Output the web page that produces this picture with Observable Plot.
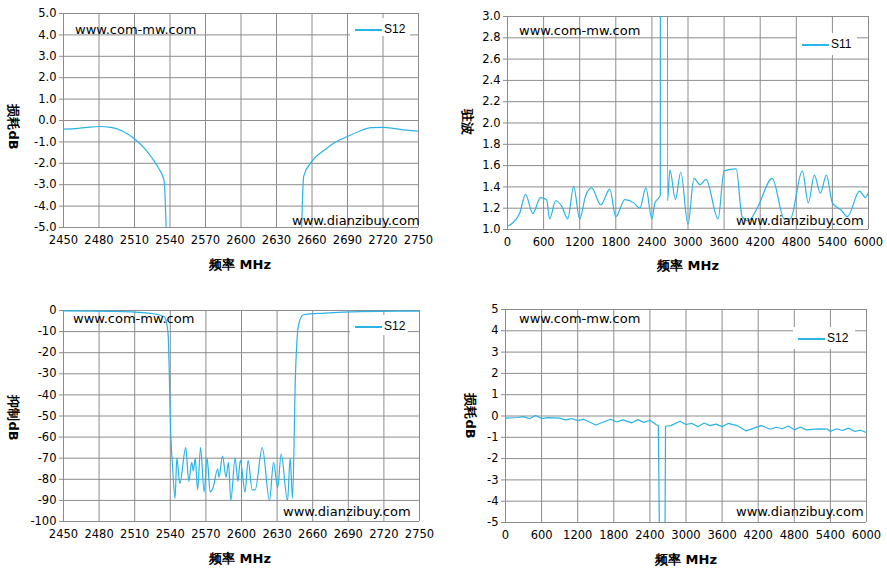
<!DOCTYPE html>
<html>
<head>
<meta charset="utf-8">
<script src="https://cdn.jsdelivr.net/npm/d3@7"></script>
<script src="https://cdn.jsdelivr.net/npm/@observablehq/plot@0.6"></script>
<style>
  body { margin: 0; background: #fff; font-family: "DejaVu Sans", sans-serif; }
  #wrap { position: relative; width: 887px; height: 575px; overflow: hidden; }
  .p { position: absolute; }
  .t { position: absolute; white-space: nowrap; color: #000; }
  .wm { font-size: 13px; font-family: "DejaVu Sans", sans-serif; }
  .yl2 { font-weight: bold; font-size: 13px; transform: translate(-50%, -50%) rotate(90deg); }
  .xl { font-weight: bold; font-size: 13px; transform: translate(-50%, -50%); }
  .lg { position: absolute; background: #fff; font-size: 12px; font-family: "Liberation Sans", sans-serif; }
  .lg span.ln { display: inline-block; width: 27px; height: 1.5px; background: #29b3e6; vertical-align: middle; margin-right: 2px; }
</style>
</head>
<body>
<div id="wrap"></div>
<script>
// panel 1: S12 loss around band, MHz / dB
const p1Freq = [2450, 2460, 2470, 2480, 2490, 2500, 2510, 2520, 2530, 2535, 2537,
                2651, 2653, 2660, 2670, 2680, 2690, 2700, 2710, 2720, 2730, 2740, 2750]
const p1Db = [-0.4, -0.38, -0.32, -0.28, -0.32, -0.5, -0.85, -1.4, -2.2, -2.8, -5.5,
              -5.5, -2.6, -1.9, -1.4, -1.0, -0.75, -0.5, -0.33, -0.32, -0.38, -0.45, -0.5]
const p1Seg = [0,0,0,0,0,0,0,0,0,0,0, 1,1,1,1,1,1,1,1,1,1,1,1]

// panel 2: S11 VSWR, 0-6000 MHz
const p2Freq = [0, 200, 300, 420, 550, 650, 700, 800, 900, 1000, 1100, 1200, 1300, 1400, 1550, 1700, 1800,
  1950, 2100, 2200, 2300, 2400, 2450, 2540, 2550, 2645, 2660, 2700, 2790, 2880, 3000, 3100, 3200, 3300,
  3500, 3600, 3800, 3900, 4000, 4150, 4400, 4600, 4700, 4900, 5000, 5100, 5200, 5300, 5400, 5550, 5650,
  5850, 5950, 6000]
const p2Vswr = [1.03, 1.15, 1.33, 1.15, 1.3, 1.28, 1.1, 1.27, 1.22, 1.1, 1.4, 1.1, 1.32, 1.39, 1.23, 1.38, 1.12,
  1.28, 1.25, 1.2, 1.39, 1.1, 1.25, 1.32, 20, 20, 1.27, 1.56, 1.28, 1.54, 1.05, 1.48, 1.42, 1.47,
  1.1, 1.55, 1.57, 1.12, 1.08, 1.2, 1.48, 1.1, 1.1, 1.55, 1.25, 1.51, 1.34, 1.51, 1.25, 1.18, 1.12,
  1.36, 1.3, 1.35]

// panel 3: S12 rejection, MHz / dB
const p3Freq = [2450, 2500, 2525, 2535, 2538, 2540.5, 2542, 2544, 2545.5, 2548, 2553, 2555.6, 2558, 2559.5,
  2561, 2563, 2565.5, 2568.5, 2571, 2573.6, 2576, 2580, 2581, 2584, 2587, 2589, 2591, 2594.6, 2597, 2599,
  2603, 2605.6, 2609, 2611.5, 2617.5, 2623.6, 2627, 2630.5, 2633.4, 2638.8, 2641, 2643, 2645.5, 2648,
  2652, 2670, 2700, 2750]
const p3Db = [-0.2, -0.5, -1.5, -3, -10, -60, -75, -89, -70, -82, -65, -81, -72, -76,
  -70, -85, -65, -86, -70, -86, -84, -75, -79, -69, -79, -72, -90, -70, -81, -71,
  -86, -71, -85, -85, -65, -90, -72, -84, -68, -90, -70, -89, -30, -7,
  -2, -1.2, -0.5, -0.3]

// panel 4: S12 wideband loss, 0-6000 MHz
const p4Freq = [0, 200, 300, 400, 500, 600, 700, 900, 1000, 1100, 1200, 1300, 1500, 1750, 1850, 1950, 2100,
  2200, 2300, 2400, 2500, 2540, 2560, 2650, 2660, 2750, 2900, 3000, 3100, 3200, 3300, 3400, 3500, 3600,
  3700, 3850, 4000, 4250, 4400, 4500, 4600, 4700, 4800, 4900, 5000, 5200, 5350, 5400, 5500, 5600, 5700,
  5800, 5900, 6000]
const p4Db = [-0.1, -0.07, -0.03, -0.13, 0.02, -0.12, -0.08, -0.1, -0.18, -0.12, -0.22, -0.15, -0.42, -0.15, -0.28, -0.18, -0.32,
  -0.17, -0.3, -0.2, -0.4, -0.45, -6, -6, -0.48, -0.45, -0.25, -0.4, -0.35, -0.5, -0.33, -0.45, -0.38, -0.5,
  -0.35, -0.45, -0.7, -0.45, -0.62, -0.53, -0.6, -0.47, -0.65, -0.52, -0.65, -0.6, -0.62, -0.72, -0.6, -0.68, -0.57,
  -0.72, -0.67, -0.78]

const p1Ticks = d3.range(2450, 2751, 30)
const p2Ticks = d3.range(0, 6001, 600)

const blue = "#29b3e6"
const wrap = document.getElementById("wrap")

function panel(cfg) {
  const data = cfg.x.map((x, i) => ({x, y: cfg.y[i], z: cfg.z ? cfg.z[i] : 0}))
  const chart = Plot.plot({
    width: cfg.w, height: 285,
    marginLeft: cfg.ml, marginRight: cfg.mr, marginTop: cfg.mt, marginBottom: cfg.mb,
    style: {fontFamily: "DejaVu Sans, sans-serif", fontSize: "11.5px", color: "#000", background: "transparent"},
    x: {domain: cfg.xd, label: null},
    y: {domain: cfg.yd, label: null},
    marks: [
      Plot.gridX(cfg.xt, {stroke: "#8c8c8c", strokeOpacity: 1}),
      Plot.gridY(cfg.yt, {stroke: "#8c8c8c", strokeOpacity: 1}),
      Plot.axisX({ticks: cfg.xt, tickSize: 0, tickPadding: 8, label: null, tickFormat: d => String(d)}),
      Plot.axisY({ticks: cfg.yt, tickSize: 4, tickPadding: 3, label: null, tickFormat: cfg.fmt, stroke: "#8c8c8c"}),
      Plot.ruleX([cfg.xd[0]], {stroke: "#8c8c8c"}),
      Plot.ruleY([cfg.yd[0]], {stroke: "#8c8c8c"}),
      Plot.line(data, {x: "x", y: "y", z: "z", stroke: blue, strokeWidth: 1.2, curve: cfg.curve, clip: true})
    ]
  })
  chart.classList.add("p")
  chart.style.left = cfg.left + "px"
  chart.style.top = cfg.top + "px"
  wrap.appendChild(chart)
}

function text(cls, txt, x, y) {
  const d = document.createElement("div")
  d.className = "t " + cls
  d.textContent = txt
  d.style.left = x + "px"
  d.style.top = y + "px"
  wrap.appendChild(d)
}

function legend(name, x, y, w, h) {
  const d = document.createElement("div")
  d.className = "lg"
  d.style.left = x + "px"; d.style.top = y + "px"
  d.style.width = w + "px"; d.style.height = h + "px"
  d.innerHTML = `<div style="position:absolute;left:5px;top:4px"><span class="ln"></span>${name}</div>`
  wrap.appendChild(d)
}

const f1 = d => d.toFixed(1)
const f0 = d => String(d)

panel({left: 0, top: 0, w: 440, ml: 63, mr: 22, mt: 13, mb: 58, x: p1Freq, y: p1Db, z: p1Seg,
  xd: [2450, 2750], xt: p1Ticks, yd: [-5, 5], yt: d3.range(-5, 5.1, 1), fmt: f1, curve: "monotone-x"})
panel({left: 443, top: 0, w: 444, ml: 64, mr: 19, mt: 16, mb: 56, x: p2Freq, y: p2Vswr,
  xd: [0, 6000], xt: p2Ticks, yd: [1, 3], yt: d3.range(1, 3.01, 0.2), fmt: f1, curve: "monotone-x"})
panel({left: 0, top: 290, w: 440, ml: 63, mr: 21, mt: 20, mb: 54, x: p3Freq, y: p3Db,
  xd: [2450, 2750], xt: p1Ticks, yd: [-100, 0], yt: d3.range(-100, 1, 10), fmt: f0, curve: "monotone-x"})
panel({left: 443, top: 290, w: 444, ml: 62, mr: 21, mt: 19, mb: 53, x: p4Freq, y: p4Db,
  xd: [0, 6000], xt: p2Ticks, yd: [-5, 5], yt: d3.range(-5, 5.1, 1), fmt: f0, curve: "linear"})

// legends
legend("S12", 350, 18, 60, 18)
legend("S11", 797, 33, 60, 22)
legend("S12", 350, 315, 58, 20)
legend("S12", 793, 327, 62, 22)

// watermarks
text("wm", "www.com-mw.com", 75, 22)
text("wm", "www.dianzibuy.com", 292, 213)
text("wm", "www.com-mw.com", 519, 23)
text("wm", "www.dianzibuy.com", 736, 213)
text("wm", "www.com-mw.com", 73, 311)
text("wm", "www.dianzibuy.com", 283, 504)
text("wm", "www.com-mw.com", 519, 311)
text("wm", "www.dianzibuy.com", 736, 504)

// axis titles
text("yl2", "损耗dB", 13, 127)
text("yl2", "驻波", 467, 122)
text("yl2", "抑制dB", 13, 418)
text("yl2", "损耗dB", 470, 416)
text("xl", "频率 MHz", 240, 265)
text("xl", "频率 MHz", 688, 266)
text("xl", "频率 MHz", 240, 559)
text("xl", "频率 MHz", 686, 560)
</script>
</body>
</html>
